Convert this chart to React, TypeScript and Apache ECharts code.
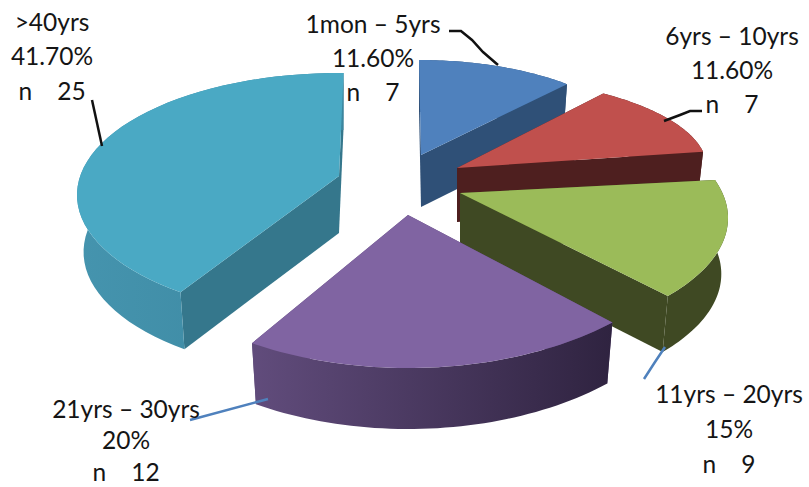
import React, { useEffect, useRef } from "react";
import * as echarts from "echarts";

// ---- data ----
const categories = ["1mon – 5yrs", "6yrs – 10yrs", "11yrs – 20yrs", "21yrs – 30yrs", ">40yrs"];
const percentLabels = ["11.60%", "11.60%", "15%", "20%", "41.70%"];
const percentValues = [11.6, 11.6, 15, 20, 41.7];
const counts = [7, 7, 9, 12, 25];

// ---- look ----
const topColors = ["#4f81bd", "#c0504d", "#9bbb59", "#8064a2", "#4aa9c4"];
const cutColors = ["#2f5077", "#4e1f1f", "#3f4923", "#5d4877", "#35778c"];
const wallColors: [string, string][] = [
  ["#2f5077", "#2f5077"],
  ["#4e1f1f", "#4e1f1f"],
  ["#3f4923", "#3f4923"],
  ["#614c7c", "#2f2340"],
  ["#4594ae", "#3b869f"],
];
// Per-slice projection of the tilted, exploded pie: apex, ellipse radii and
// offset, wall depth, and the small angular skew of the perspective (degrees).
const apexX = [421, 457, 460, 408, 339];
const apexY = [155, 168, 193, 215, 176];
const radiusX = [222, 250, 268, 300, 262];
const radiusY = [95, 92, 123.5, 170, 122];
const offsetX = [-2, 0, 0, 0, 0];
const offsetY = [0, 0, 25, -17, 19];
const depth = [52, 54, 56, 61, 57];
const skewStart = [0, -6, -11.5, -0.6, 7.5];
const skewEnd = [0, -3.8, -8.5, 1.6, 1];
const wallTaper = 0.975;

const total = percentValues.reduce((a, b) => a + b, 0);
const startFractions = percentValues.map(
  (_, i) => percentValues.slice(0, i).reduce((a, b) => a + b, 0) / total
);

const labelX = [373, 732, 729, 126, 52];
const labelY = [23, 35, 393, 408, 21];
const lineStep = [34, 34, 35, 31.5, 34.5];

const leaderLines: { points: number[][]; color: string }[] = [
  { points: [[449, 31], [461, 31], [472, 40], [483, 52], [498, 65]], color: "#111111" },
  { points: [[702, 111], [690, 111], [680, 115], [664, 121]], color: "#111111" },
  { points: [[665, 347], [655, 362], [644, 379]], color: "#4f81bd" },
  { points: [[268, 399], [257, 402], [190, 420]], color: "#4f81bd" },
  { points: [[92, 100], [102, 146]], color: "#111111" },
];

const FONT = "Lato, Carlito, sans-serif";

function renderSlice(params: any, api: any) {
  const i = params.dataIndex as number;
  const value = api.value(0) as number;
  const ax = apexX[i];
  const ay = apexY[i];
  const a0 = startFractions[i] * 360;
  const a1 = a0 + (value / total) * 360;
  const steps = 48;
  const rim: number[][] = [];
  for (let s = 0; s <= steps; s++) {
    const t = s / steps;
    const deg = a0 + (a1 - a0) * t + skewStart[i] + (skewEnd[i] - skewStart[i]) * t;
    const r = (deg * Math.PI) / 180;
    rim.push([
      ax + offsetX[i] + radiusX[i] * Math.sin(r),
      ay + offsetY[i] - radiusY[i] * Math.cos(r),
    ]);
  }
  const d = depth[i];
  const lower = (p: number[]) => [ax + (p[0] - ax) * wallTaper, p[1] + d];
  const low = rim.map(lower);
  const apex = [ax, ay];
  const apexLow = lower(apex);
  const first = rim[0];
  const last = rim[rim.length - 1];

  const poly = (points: number[][], fill: any) => ({
    type: "polygon",
    shape: { points },
    style: { fill, stroke: null },
  });
  const wallFill = new echarts.graphic.LinearGradient(0, 0, 1, 0, [
    { offset: 0, color: wallColors[i][0] },
    { offset: 1, color: wallColors[i][1] },
  ]);

  return {
    type: "group",
    children: [
      poly([apex, first, low[0], apexLow], cutColors[i]),
      poly([apex, last, low[low.length - 1], apexLow], cutColors[i]),
      poly([...rim, ...low.slice().reverse()], wallFill),
      poly([apex, ...rim], topColors[i]),
    ],
  };
}

export default function App() {
  const ref = useRef<HTMLDivElement>(null);

  useEffect(() => {
    if (!ref.current) return;
    const chart = echarts.init(ref.current, undefined, { renderer: "svg" });

    const texts: any[] = [];
    categories.forEach((name, i) => {
      const lines = [name, percentLabels[i], `n\u00a0\u00a0\u00a0\u00a0${counts[i]}`];
      lines.forEach((text, j) => {
        texts.push({
          type: "text",
          x: labelX[i],
          y: labelY[i] + j * lineStep[i],
          z: 20,
          silent: true,
          style: {
            text,
            fill: "#151515",
            font: `24.5px ${FONT}`,
            textAlign: "center",
            textVerticalAlign: "middle",
          },
        });
      });
    });
    const lines = leaderLines.map((l) => ({
      type: "polyline",
      z: 15,
      silent: true,
      shape: { points: l.points },
      style: { stroke: l.color, lineWidth: 2.5, fill: null },
    }));

    chart.setOption({
      animation: false,
      backgroundColor: "#ffffff",
      series: [
        {
          type: "custom",
          coordinateSystem: "none",
          silent: true,
          renderItem: renderSlice,
          data: percentValues.map((v, i) => ({ name: categories[i], value: [v] })),
        },
      ],
      graphic: { elements: [...lines, ...texts] },
    });

    return () => chart.dispose();
  }, []);

  return (
    <div
      ref={ref}
      style={{ position: "fixed", left: 0, top: 0, width: 809, height: 487, background: "#fff" }}
    />
  );
}
